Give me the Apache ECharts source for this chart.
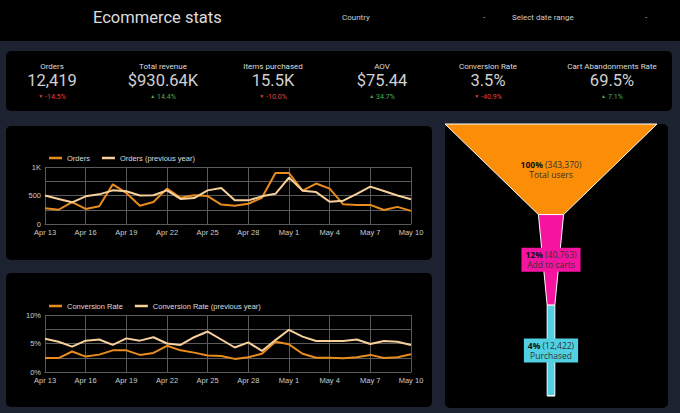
<!DOCTYPE html>
<html>
<head>
<meta charset="utf-8">
<script src="https://cdn.jsdelivr.net/npm/echarts@6/dist/echarts.min.js"></script>
<style>
  body { margin: 0; background: #1c2230; font-family: Roboto, sans-serif; }
  #page { position: relative; width: 680px; height: 413px; overflow: hidden; }
  .card { position: absolute; background: #000; border-radius: 5px; }
  .t { position: absolute; white-space: nowrap; }
  .kpi { position: absolute; width: 130px; margin-left: -65px; text-align: center; }
  .kpi .name { position: absolute; top: 62px; width: 100%; font-size: 8px; line-height: 10px; color: #ddd; }
  .kpi .val { position: absolute; top: 72px; width: 100%; font-size: 16.5px; line-height: 18px; color: #d0d0d0; }
  .kpi .delta { position: absolute; top: 92px; width: 100%; font-size: 7px; line-height: 9px; }
  .kpi .delta span { font-size: 5px; vertical-align: 1px; margin-right: 2px; }
  #chart { position: absolute; left: 0; top: 0; width: 680px; height: 413px; }
</style>
</head>
<body>
<div id="page">
  <div style="position:absolute;left:0;top:0;width:680px;height:41px;background:#000"></div>
  <div class="t" style="left:93px;top:8px;font-size:16.5px;line-height:20px;color:#dcdcdc">Ecommerce stats</div>
  <div class="t" style="left:342px;top:13px;font-size:8px;line-height:10px;color:#ccc">Country</div>
  <div class="t" style="left:483px;top:13px;font-size:8px;line-height:10px;color:#ccc">-</div>
  <div class="t" style="left:512px;top:13px;font-size:8px;line-height:10px;color:#ccc">Select date range</div>
  <div class="t" style="left:645px;top:13px;font-size:8px;line-height:10px;color:#ccc">-</div>

  <div class="card" style="left:6px;top:51px;width:666px;height:60px"></div>
  <div id="kpis"></div>

  <div class="card" style="left:6px;top:126px;width:426px;height:134px"></div>
  <div class="card" style="left:6px;top:273px;width:426px;height:134px"></div>
  <div class="card" style="left:445px;top:124px;width:223px;height:284px"></div>

  <div id="chart"></div>
</div>
<script>
// KPI row
const kpiNames = ['Orders', 'Total revenue', 'Items purchased', 'AOV', 'Conversion Rate', 'Cart Abandonments Rate'];
const kpiValues = ['12,419', '$930.64K', '15.5K', '$75.44', '3.5%', '69.5%'];
const kpiDeltas = [-14.5, 14.4, -10.0, 34.7, -40.9, 7.1];
const kpiCenters = [52, 163, 273, 382, 488, 612];

// daily series, Apr 13 - May 10
const dates = ['Apr 13', 'Apr 14', 'Apr 15', 'Apr 16', 'Apr 17', 'Apr 18', 'Apr 19', 'Apr 20', 'Apr 21', 'Apr 22',
  'Apr 23', 'Apr 24', 'Apr 25', 'Apr 26', 'Apr 27', 'Apr 28', 'Apr 29', 'Apr 30', 'May 1', 'May 2',
  'May 3', 'May 4', 'May 5', 'May 6', 'May 7', 'May 8', 'May 9', 'May 10'];
const orders = [275, 250, 385, 265, 310, 695, 545, 320, 385, 620, 460, 505, 490, 340,
  320, 355, 460, 895, 895, 585, 710, 620, 345, 335, 335, 245, 300, 230];
const ordersPrev = [500, 440, 380, 485, 520, 590, 575, 500, 505, 590, 440, 455, 590, 630,
  415, 415, 485, 530, 815, 585, 560, 390, 410, 530, 655, 580, 500, 435];
const convRate = [2.45, 2.45, 3.6, 2.7, 3.05, 3.8, 3.8, 3.0, 3.35, 4.6, 3.8, 3.4, 2.9, 2.8,
  2.3, 2.6, 3.2, 5.3, 4.85, 3.2, 2.5, 2.5, 2.4, 2.6, 3.0, 2.45, 2.6, 3.1];
const convRatePrev = [5.85, 5.3, 4.45, 5.5, 5.7, 4.75, 5.9, 5.5, 6.1, 5.0, 4.75, 6.1, 7.1, 5.7,
  4.3, 5.2, 3.7, 5.6, 7.4, 6.2, 5.45, 5.45, 5.45, 5.7, 4.9, 5.45, 5.3, 4.75];

// y tick labels (only every second gridline is labelled)
const ordersTicks = [0, 500, 1000];
const ordersTickLabels = ['0', '500', '1K'];
const convTicks = [0, 5, 10];
const convTickLabels = ['0%', '5%', '10%'];

// funnel
const funnelStages = ['Total users', 'Add to carts', 'Purchased'];
const funnelValues = [343370, 40763, 12422];
const funnelColors = ['#fb8d07', '#f5139f', '#50d0e2'];

document.getElementById('kpis').innerHTML = kpiNames.map((n, i) => {
  const up = kpiDeltas[i] >= 0;
  return '<div class="kpi" style="left:' + kpiCenters[i] + 'px">' +
    '<div class="name">' + n + '</div>' +
    '<div class="val">' + kpiValues[i] + '</div>' +
    '<div class="delta" style="color:' + (up ? '#4caf50' : '#e5413b') + '"><span>' + (up ? '▲' : '▼') + '</span>' +
    kpiDeltas[i].toFixed(1) + '%</div></div>';
}).join('');

const gridColor = '#5a5a5a';
const orange = '#e98c1c';
const peach = '#f7d09c';

function xAxisFor(gridIndex) {
  return {
    gridIndex: gridIndex,
    type: 'category',
    boundaryGap: false,
    data: dates,
    axisLine: { lineStyle: { color: gridColor } },
    axisTick: { show: false },
    axisLabel: { interval: 2, color: '#ccc', fontSize: 7.5, margin: 4 },
    splitLine: { show: true, interval: 2, lineStyle: { color: gridColor } }
  };
}
function yAxisFor(gridIndex, max, ticks, labels) {
  return {
    gridIndex: gridIndex,
    type: 'value',
    min: 0,
    max: max,
    interval: max / 4,
    axisLine: { show: false },
    axisTick: { show: false },
    axisLabel: {
      color: '#ccc', fontSize: 7.5, margin: 4,
      formatter: v => { const k = ticks.indexOf(v); return k < 0 ? '' : labels[k]; }
    },
    splitLine: { lineStyle: { color: gridColor } }
  };
}
function legendFor(top, names) {
  return {
    left: 44, top: top, icon: 'rect', itemWidth: 13, itemHeight: 2.5, itemGap: 12,
    textStyle: { color: '#ddd', fontSize: 7.5 },
    data: names
  };
}
function lineSeries(name, data, color, idx) {
  return {
    name: name, type: 'line', data: data, xAxisIndex: idx, yAxisIndex: idx,
    showSymbol: false, lineStyle: { width: 2, color: color }, itemStyle: { color: color }
  };
}

const funnelData = funnelStages.map((name, i) => ({
  name: name,
  value: funnelValues[i],
  itemStyle: { color: funnelColors[i], height: '33.3%' },
  label: { backgroundColor: i === 0 ? 'transparent' : funnelColors[i] }
}));
// zero-height end item so the last stage keeps its width
funnelData.push({
  name: 'end', value: funnelValues[funnelValues.length - 1],
  itemStyle: { color: 'transparent', height: 0 }, label: { show: false }
});

const chart = echarts.init(document.getElementById('chart'), null, { renderer: 'svg' });
chart.setOption({
  animation: false,
  backgroundColor: 'transparent',
  legend: [
    legendFor(149, ['Orders', 'Orders (previous year)']),
    legendFor(297, ['Conversion Rate', 'Conversion Rate (previous year)'])
  ],
  grid: [
    { left: 45, top: 167, width: 366, height: 57 },
    { left: 45, top: 315, width: 366, height: 57 }
  ],
  xAxis: [xAxisFor(0), xAxisFor(1)],
  yAxis: [
    yAxisFor(0, 1000, ordersTicks, ordersTickLabels),
    yAxisFor(1, 10, convTicks, convTickLabels)
  ],
  series: [
    lineSeries('Orders', orders, orange, 0),
    lineSeries('Orders (previous year)', ordersPrev, peach, 0),
    lineSeries('Conversion Rate', convRate, orange, 1),
    lineSeries('Conversion Rate (previous year)', convRatePrev, peach, 1),
    {
      type: 'funnel',
      left: 445, top: 124, width: 212, height: 272,
      sort: 'none', gap: 0,
      min: 0, max: funnelValues[0],
      minSize: '0%', maxSize: '100%',
      label: {
        show: true, position: 'inside',
        color: '#333', fontFamily: 'Open Sans', fontSize: 8.5, lineHeight: 10,
        padding: [2, 4],
        formatter: p => '{b|' + Math.round(p.value / funnelValues[0] * 100) + '%} (' +
          p.value.toLocaleString('en-US') + ')\n' + p.name,
        rich: { b: { fontWeight: 'bold', color: '#111', fontFamily: 'Open Sans', fontSize: 8.5, lineHeight: 10 } }
      },
      labelLine: { show: false },
      data: funnelData
    }
  ]
});
</script>
</body>
</html>
